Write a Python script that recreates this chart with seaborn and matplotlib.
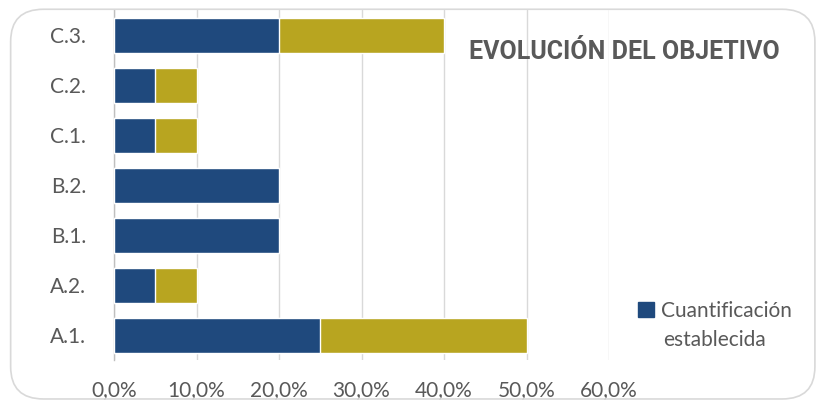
import matplotlib.pyplot as plt
import seaborn as sns
import pandas as pd
import numpy as np
from matplotlib.patches import FancyBboxPatch, Patch
from matplotlib.ticker import FuncFormatter

# datos
categorias = ["A.1.", "A.2.", "B.1.", "B.2.", "C.1.", "C.2.", "C.3."]
cuantificacion = [25, 5, 20, 20, 5, 5, 20]
avance = [25, 5, 0, 0, 5, 5, 20]
ticks_x = [0, 10, 20, 30, 40, 50, 60]

AZUL = "#1F497D"
ORO = "#B8A520"
GRIS_TXT = "#595959"

sns.set_theme(style="white")
plt.rcParams['font.family'] = ['Lato', 'DejaVu Sans']

df = pd.DataFrame({"cat": categorias, "azul": cuantificacion, "oro": avance})
df["total"] = df["azul"] + df["oro"]
df = df.iloc[::-1]  # C.3 arriba

fig = plt.figure(figsize=(8.19, 4.03), dpi=100)
ax = fig.add_axes([0.1392, 0.1055, 0.6044, 0.8685])

sns.barplot(data=df, x="total", y="cat", color=ORO, orient="h", width=0.7,
            saturation=1, ax=ax, zorder=3)
sns.barplot(data=df, x="azul", y="cat", color=AZUL, orient="h", width=0.7,
            saturation=1, ax=ax, zorder=4)

ax.set_xlim(0, 60)
ax.set_ylim(6.5, -0.5)
ax.set_xticks(ticks_x)
ax.xaxis.set_major_formatter(FuncFormatter(lambda v, p: f"{v:.1f}%".replace(".", ",")))
ax.set_xlabel("")
ax.set_ylabel("")
ax.grid(axis="x", color="#D9D9D9", linewidth=1, zorder=0)
for s in ["top", "right", "bottom"]:
    ax.spines[s].set_visible(False)
ax.spines["left"].set_color("#BFBFBF")
ax.spines["left"].set_linewidth(1)
ax.tick_params(axis="both", length=0, labelsize=15, colors=GRIS_TXT)
ax.tick_params(axis="x", pad=14)
ax.tick_params(axis="y", pad=20)

fig.text(0.762, 0.871, "EVOLUCIÓN DEL OBJETIVO", ha="center", va="center",
         fontsize=18, fontweight="bold", color=GRIS_TXT, family=["Roboto", "DejaVu Sans"])

# leyenda: cuadro alineado con la primera línea, como en Excel
fig.legend(handles=[Patch(color=AZUL, label="Cuantificación")],
           loc="center left", bbox_to_anchor=(0.779, 0.228), frameon=False,
           fontsize=15, handlelength=0.75, handleheight=0.75, handletextpad=0.35,
           labelcolor=GRIS_TXT, borderpad=0, borderaxespad=0)
fig.text(0.8095, 0.156, "establecida", ha="left", va="center", fontsize=15, color=GRIS_TXT)

borde = FancyBboxPatch((0.013, 0.01), 0.982, 0.967, boxstyle="round,pad=0,rounding_size=0.04",
                       transform=fig.transFigure, facecolor="none", edgecolor="#D9D9D9",
                       linewidth=1.2, mutation_aspect=2.0)
fig.patches.append(borde)

fig.savefig("out.png", dpi=100)
